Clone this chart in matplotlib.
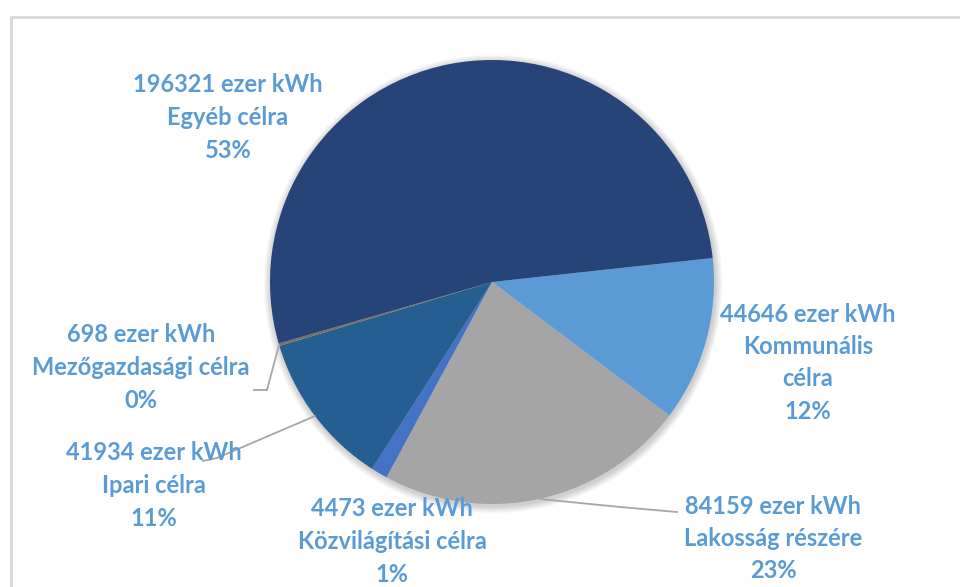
import matplotlib.pyplot as plt
from matplotlib.patches import Circle, Rectangle

# villamosenergia-felhasználás célok szerint (ezer kWh)
names = ["Kommunális\ncélra", "Lakosság részére", "Közvilágítási célra",
         "Ipari célra", "Mezőgazdasági célra", "Egyéb célra"]
values = [44646, 84159, 4473, 41934, 698, 196321]
colors = ["#5B9BD5", "#A5A5A5", "#4472C4", "#255E91", "#7F6F62", "#264478"]

# label block centres (x, y of first line) in pixels from top-left
label_pos = [(808, 314), (773, 506), (392, 509), (154, 453), (141, 335), (228, 85)]
# leader lines (pixel coordinates), None where the label sits without one
leaders = [None,
           [(540, 499), (620, 507), (677, 512)],
           None,
           [(315, 416), (217, 458), (203, 461)],
           [(279, 345), (267, 390), (254, 390)],
           None]

W, H = 960, 587
fig = plt.figure(figsize=(9.6, 5.87), dpi=100)
ax = fig.add_axes([0, 0, 1, 1])
ax.set_xlim(0, W)
ax.set_ylim(0, H)
ax.set_aspect("equal")
ax.axis("off")

cx, cy, r = 492, H - 282, 222

# chart area border
ax.add_patch(Rectangle((11, -20), W + 40, H - 17 + 20, fill=False,
                       edgecolor="#D9D9D9", linewidth=2))

# soft shadow under the pie
for i in range(8):
    ax.add_patch(Circle((cx + 1, cy - 2), r + 1 + i * 0.9, color="black",
                        alpha=0.025, linewidth=0, zorder=1))

total = sum(values)
start = 6.2
ax.pie(values, colors=colors, startangle=start, counterclock=False,
       center=(cx, cy), radius=r, frame=True,
       wedgeprops=dict(linewidth=0, zorder=2))
ax.set_xlim(0, W)
ax.set_ylim(0, H)
ax.axis("off")

for name, v, (lx, ly), lead in zip(names, values, label_pos, leaders):
    pct = round(100 * v / total)
    lines = [f"{v} ezer kWh"] + name.split("\n") + [f"{pct}%"]
    for k, line in enumerate(lines):
        ax.text(lx, H - (ly + k * 32.5), line, ha="center", va="center",
                fontsize=17, fontweight="bold", family="Lato",
                color="#5B9BD5", zorder=5)
    if lead:
        xs = [p[0] for p in lead]
        ys = [H - p[1] for p in lead]
        ax.plot(xs, ys, color="#A6A6A6", linewidth=1.3, zorder=4)

fig.savefig("out.png", dpi=100)
